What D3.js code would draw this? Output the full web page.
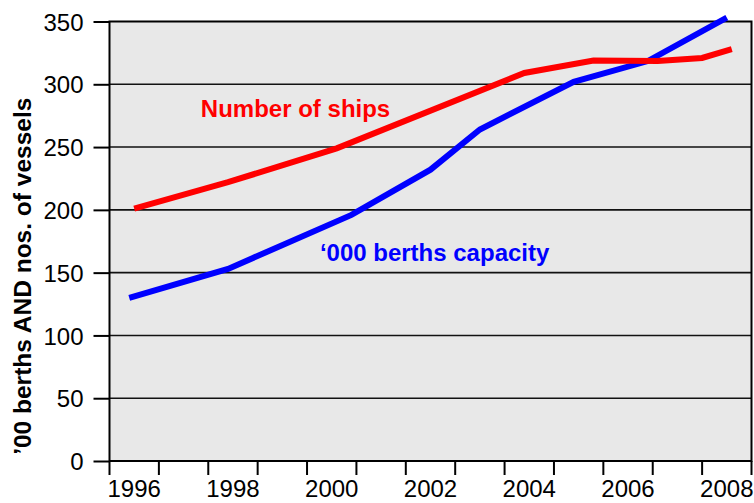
<!DOCTYPE html>
<html>
<head>
<meta charset="utf-8">
<script src="https://cdn.jsdelivr.net/npm/d3@7"></script>
<style>
  html, body { margin: 0; padding: 0; background: #fff; }
  svg { display: block; font-family: "Liberation Sans", Arial, Helvetica, sans-serif; }
</style>
</head>
<body>
<svg width="754" height="503"></svg>
<script>
// values (x = fractional year, y = value)
var shipYears   = [1996.0, 1997.9, 2000.1, 2003.9, 2005.3, 2006.6, 2007.5, 2008.1];
var shipValues  = [201, 222, 249, 309, 319, 318.5, 321, 328];
var berthYears  = [1995.9, 1997.9, 2000.4, 2002.0, 2003.0, 2004.9, 2006.4, 2008.0];
var berthValues = [130, 153, 196, 232, 264, 302, 318.5, 353];
var yTicks = [0, 50, 100, 150, 200, 250, 300, 350];
var xLabels = [1996, 1998, 2000, 2002, 2004, 2006, 2008];

var loadVis = function() {

    var svg = d3.select("svg"),
        margin = {top: 21.5, right: 2.5, bottom: 42, left: 109.5},
        width = +svg.attr("width") - margin.left - margin.right,
        height = +svg.attr("height") - margin.top - margin.bottom;

    var x = d3.scaleLinear()
        .domain([1995.5, 2008.5])
        .range([0, width]);

    var y = d3.scaleLinear()
        .domain([0, 350])
        .range([height, 0]);

    var g = svg.append("g")
        .attr("transform", "translate(" + margin.left + "," + margin.top + ")");

    // plot background
    g.append("rect")
        .attr("width", width)
        .attr("height", height)
        .attr("fill", "#e8e8e8");

    // horizontal grid
    g.append("g")
        .selectAll("line")
        .data(yTicks.slice(1, -1))
        .enter().append("line")
            .attr("x1", 0)
            .attr("x2", width)
            .attr("y1", function(d) { return y(d); })
            .attr("y2", function(d) { return y(d); })
            .style("stroke", "#111")
            .style("stroke-width", 1.6);

    // y axis
    var yAxis = g.append("g")
        .call(d3.axisLeft(y).tickValues(yTicks).tickSize(16).tickPadding(10));
    yAxis.select(".domain").remove();
    yAxis.selectAll("line").style("stroke", "#000").style("stroke-width", 2);
    yAxis.selectAll("text")
        .style("font-size", "24px")
        .attr("fill", "#000")
        .attr("dy", "0.36em");

    // x axis: ticks on year boundaries, labels centred on even years
    var boundaries = d3.range(1995.5, 2009, 1);
    var xAxis = g.append("g")
        .attr("transform", "translate(0," + height + ")");
    xAxis.selectAll("line")
        .data(boundaries)
        .enter().append("line")
            .attr("x1", function(d) { return x(d); })
            .attr("x2", function(d) { return x(d); })
            .attr("y1", 0)
            .attr("y2", 14)
            .style("stroke", "#000")
            .style("stroke-width", 2);
    xAxis.selectAll("text")
        .data(xLabels)
        .enter().append("text")
            .attr("x", function(d) { return x(d); })
            .attr("y", 36)
            .attr("text-anchor", "middle")
            .style("font-size", "24px")
            .text(function(d) { return d; });

    // frame
    g.append("rect")
        .attr("width", width)
        .attr("height", height)
        .attr("fill", "none")
        .style("stroke", "#000")
        .style("stroke-width", 2);

    var line = d3.line()
        .x(function(d) { return x(d[0]); })
        .y(function(d) { return y(d[1]); });

    g.append("path")
        .datum(d3.zip(berthYears, berthValues))
        .attr("d", line)
        .attr("fill", "none")
        .style("stroke", "#0000ff")
        .style("stroke-width", 6);

    g.append("path")
        .datum(d3.zip(shipYears, shipValues))
        .attr("d", line)
        .attr("fill", "none")
        .style("stroke", "#ff0000")
        .style("stroke-width", 6);

    // series labels
    g.append("text")
        .attr("x", x(1997.35))
        .attr("y", y(274))
        .attr("fill", "#ff0000")
        .style("font-size", "24px")
        .style("font-weight", "bold")
        .text("Number of ships");

    g.append("text")
        .attr("x", x(1999.76))
        .attr("y", y(159.3))
        .attr("fill", "#0000ff")
        .style("font-size", "24px")
        .style("font-weight", "bold")
        .text("\u2018000 berths capacity");

    // y title
    svg.append("text")
        .attr("transform", "translate(31," + (margin.top + height / 2 + 35) + ") rotate(-90)")
        .attr("text-anchor", "middle")
        .style("font-size", "24.5px")
        .style("font-weight", "bold")
        .text("\u201900 berths AND nos. of vessels");
}

document.addEventListener('DOMContentLoaded', loadVis, false);
</script>
</body>
</html>
